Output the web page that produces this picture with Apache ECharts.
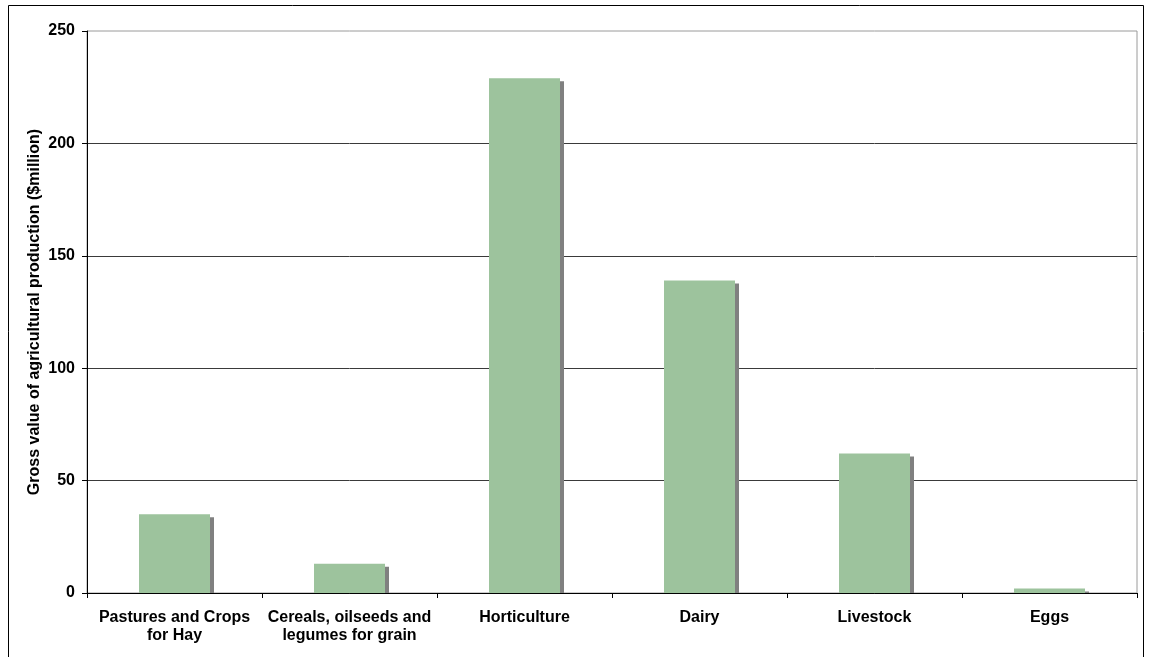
<!DOCTYPE html>
<html>
<head>
<meta charset="utf-8">
<script src="https://cdn.jsdelivr.net/npm/echarts@6/dist/echarts.min.js"></script>
<style>
  html, body { margin: 0; padding: 0; background: #ffffff; }
  #chart { width: 1152px; height: 657px; }
</style>
</head>
<body>
<div id="chart"></div>
<script>
// Gross value of agricultural production by commodity group ($million)
const categories = [
  'Pastures and Crops\nfor Hay',
  'Cereals, oilseeds and\nlegumes for grain',
  'Horticulture',
  'Dairy',
  'Livestock',
  'Eggs'
];
const values = [35, 13, 229, 139, 62, 2];
const yTicks = { min: 0, max: 250, interval: 50 };
const yTitle = 'Gross value of agricultural production ($million)';

const font = '"Liberation Sans", Arial, sans-serif';
const BAR_W = 71;
const chart = echarts.init(document.getElementById('chart'), null, { renderer: 'canvas' });

// Drop shadow behind each column, offset right and down, kept above the x axis
function renderShadow(params, api) {
  const top = api.coord([api.value(0), api.value(1)]);
  const base = api.coord([api.value(0), 0]);
  const x = top[0] - BAR_W / 2 + 4;
  const y = top[1] + 3;
  const h = Math.max(0, base[1] - y);
  return {
    type: 'rect',
    shape: { x: x, y: y, width: BAR_W, height: h },
    style: { fill: '#808080' }
  };
}

chart.setOption({
  animation: false,
  backgroundColor: '#ffffff',
  graphic: [{
    type: 'rect',
    shape: { x: 8.5, y: 5.5, width: 1135, height: 720 },
    style: { fill: 'none', stroke: '#000000', lineWidth: 1 },
    silent: true,
    z: -1
  }],
  grid: {
    left: 87, right: 15, top: 31, bottom: 64,
    show: true,
    borderColor: '#9a9a9a',
    borderWidth: 1,
    backgroundColor: 'transparent'
  },
  xAxis: {
    type: 'category',
    data: categories,
    boundaryGap: true,
    axisLine: { show: true, lineStyle: { color: '#000000', width: 1 } },
    axisTick: { show: true, alignWithLabel: false, length: 5, lineStyle: { color: '#000000' } },
    axisLabel: {
      interval: 0,
      margin: 16,
      color: '#000000',
      fontFamily: font,
      fontWeight: 'bold',
      fontSize: 16,
      lineHeight: 18
    },
    splitLine: { show: false }
  },
  yAxis: {
    type: 'value',
    min: yTicks.min,
    max: yTicks.max,
    interval: yTicks.interval,
    name: yTitle,
    nameLocation: 'middle',
    nameGap: 44,
    nameMoveOverlap: false,
    nameTextStyle: {
      color: '#000000',
      fontFamily: font,
      fontWeight: 'bold',
      fontSize: 16
    },
    axisLine: { show: true, lineStyle: { color: '#000000', width: 1 } },
    axisTick: { show: true, length: 5, lineStyle: { color: '#000000' } },
    axisLabel: {
      margin: 12,
      color: '#000000',
      fontFamily: font,
      fontWeight: 'bold',
      fontSize: 16
    },
    splitLine: { show: true, showMaxLine: false, lineStyle: { color: '#3a3a3a', width: 1 } }
  },
  series: [
    {
      type: 'custom',
      renderItem: renderShadow,
      data: values.map((v, i) => [i, v]),
      encode: { x: 0, y: 1 },
      silent: true,
      z: 1
    },
    {
      type: 'bar',
      data: values,
      barWidth: BAR_W,
      itemStyle: { color: '#9dc39d' },
      z: 2
    }
  ]
});
</script>
</body>
</html>
